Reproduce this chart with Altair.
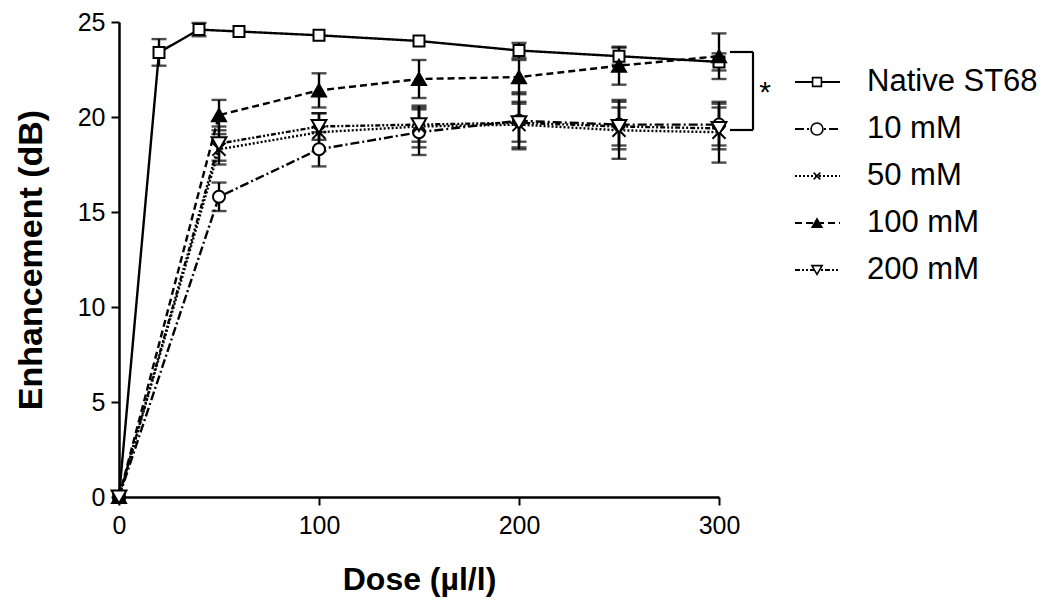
import altair as alt
import pandas as pd

series_names = ["Native ST68", "10 mM", "50 mM", "100 mM", "200 mM"]

native_dose = [0, 20, 40, 60, 100, 150, 200, 250, 300]
native_val = [0, 23.4, 24.6, 24.5, 24.3, 24.0, 23.5, 23.2, 22.9]
native_err = [0, 0.7, 0.35, 0, 0, 0, 0.4, 0.45, 0.45]

conc_dose = [0, 50, 100, 150, 200, 250, 300]
val_10 = [0, 15.8, 18.3, 19.2, 19.8, 19.6, 19.6]
err_10 = [0, 0.75, 0.9, 1.2, 1.5, 1.3, 1.1]
val_50 = [0, 18.3, 19.2, 19.5, 19.6, 19.3, 19.2]
err_50 = [0, 0.8, 1.0, 1.1, 1.2, 1.5, 1.6]
val_100 = [0, 20.1, 21.4, 22.0, 22.1, 22.7, 23.2]
err_100 = [0, 0.8, 0.9, 1.0, 0.9, 1.0, 1.2]
val_200 = [0, 18.6, 19.5, 19.6, 19.7, 19.5, 19.4]
err_200 = [0, 0.9, 0.7, 0.9, 1.0, 1.0, 1.1]

rows = []
def add(name, doses, vals, errs):
    for i, (d, v, e) in enumerate(zip(doses, vals, errs)):
        rows.append({"series": name, "dose": d, "value": v, "err": e,
                     "lo": v - e, "hi": v + e, "order": i})

add("Native ST68", native_dose, native_val, native_err)
add("10 mM", conc_dose, val_10, err_10)
add("50 mM", conc_dose, val_50, err_50)
add("100 mM", conc_dose, val_100, err_100)
add("200 mM", conc_dose, val_200, err_200)
df = pd.DataFrame(rows)

dash_range = [[1, 0], [9, 3, 2, 3], [2, 2], [7, 4], [5, 2, 2, 2, 2, 2]]
x_path = "M-1,-1L1,1M-1,1L1,-1"
shape_range = ["square", "circle", x_path, "triangle-up", "triangle-down"]
fill_range = ["white", "white", "black", "black", "white"]
size_range = [120, 220, 70, 140, 160]

xs = alt.Scale(domain=[0, 300], nice=False, zero=True)
ys = alt.Scale(domain=[0, 25], nice=False)

X = alt.X("dose:Q", scale=xs, axis=alt.Axis(
    title="Dose (\u00b5l/l)", values=[0, 100, 200, 300], titlePadding=26,
    labelPadding=8, labelFlush=False, titleFontSize=32))
Y = alt.Y("value:Q", scale=ys, axis=alt.Axis(
    title="Enhancement (dB)", values=[0, 5, 10, 15, 20, 25], titlePadding=29,
    labelPadding=6, labelFlush=False, titleFontSize=34))

base = alt.Chart(df)

lines = base.mark_line(color="black", strokeWidth=2.4).encode(
    x=X, y=Y,
    detail="series:N",
    order="order:Q",
    strokeDash=alt.StrokeDash("series:N", scale=alt.Scale(domain=series_names, range=dash_range), legend=None),
)

eb = base.transform_filter("datum.err > 0")
err_rule = eb.mark_rule(color="black", strokeWidth=2.4).encode(
    x=alt.X("dose:Q", scale=xs), y=alt.Y("lo:Q", scale=ys), y2="hi:Q")
cap_lo = eb.mark_tick(orient="horizontal", color="black", size=15, thickness=2.4).encode(
    x=alt.X("dose:Q", scale=xs), y=alt.Y("lo:Q", scale=ys))
cap_hi = eb.mark_tick(orient="horizontal", color="black", size=15, thickness=2.4).encode(
    x=alt.X("dose:Q", scale=xs), y=alt.Y("hi:Q", scale=ys))

points = base.mark_point(stroke="black", strokeWidth=2, opacity=1, filled=False).encode(
    x=alt.X("dose:Q", scale=xs), y=alt.Y("value:Q", scale=ys),
    shape=alt.Shape("series:N", scale=alt.Scale(domain=series_names, range=shape_range), legend=None),
    fill=alt.Fill("series:N", scale=alt.Scale(domain=series_names, range=fill_range), legend=None),
    size=alt.Size("series:N", scale=alt.Scale(domain=series_names, range=size_range), legend=None),
)

one = pd.DataFrame({"k": [0]})
ann = []
# significance bracket
ann.append(alt.Chart(one).mark_rule(color="black", strokeWidth=2.2).encode(
    x=alt.value(611), x2=alt.value(634), y=alt.value(30)))
ann.append(alt.Chart(one).mark_rule(color="black", strokeWidth=2.2).encode(
    x=alt.value(611), x2=alt.value(634), y=alt.value(108)))
ann.append(alt.Chart(one).mark_rule(color="black", strokeWidth=2.2).encode(
    x=alt.value(634), y=alt.value(30), y2=alt.value(108)))
ann.append(alt.Chart(one).mark_text(text="*", fontSize=30, font="Liberation Sans").encode(
    x=alt.value(646), y=alt.value(71)))

# legend
for i, name in enumerate(series_names):
    yy = 60 + i * 47
    ann.append(alt.Chart(one).mark_rule(color="black", strokeWidth=1.8, strokeDash=dash_range[i]).encode(
        x=alt.value(676), x2=alt.value(721), y=alt.value(yy)))
    ann.append(alt.Chart(one).mark_point(shape=shape_range[i], fill=fill_range[i], stroke="black",
                                         strokeWidth=1.6, opacity=1, size=size_range[i] * 0.65).encode(
        x=alt.value(698), y=alt.value(yy)))
    ann.append(alt.Chart(one).mark_text(text=name, fontSize=31, align="left", baseline="middle",
                                        font="Liberation Sans").encode(
        x=alt.value(748), y=alt.value(yy)))

chart = alt.layer(lines, err_rule, cap_lo, cap_hi, points, *ann).properties(
    width=600, height=475,
    autosize=alt.AutoSizeParams(type="none"),
    padding={"left": 111, "top": 14, "right": 318, "bottom": 100},
).configure(
    font="Liberation Sans",
).configure_view(stroke=None).configure_axis(
    grid=False, domainColor="black", domainWidth=2.5, tickColor="black", tickWidth=2,
    tickSize=8, labelFontSize=25, labelColor="black", titleFontSize=30,
    titleFontWeight="bold", titleColor="black", labelFont="Liberation Sans",
    titleFont="Liberation Sans",
)

chart.save("out.html", embed_options={"renderer": "svg", "actions": False})
